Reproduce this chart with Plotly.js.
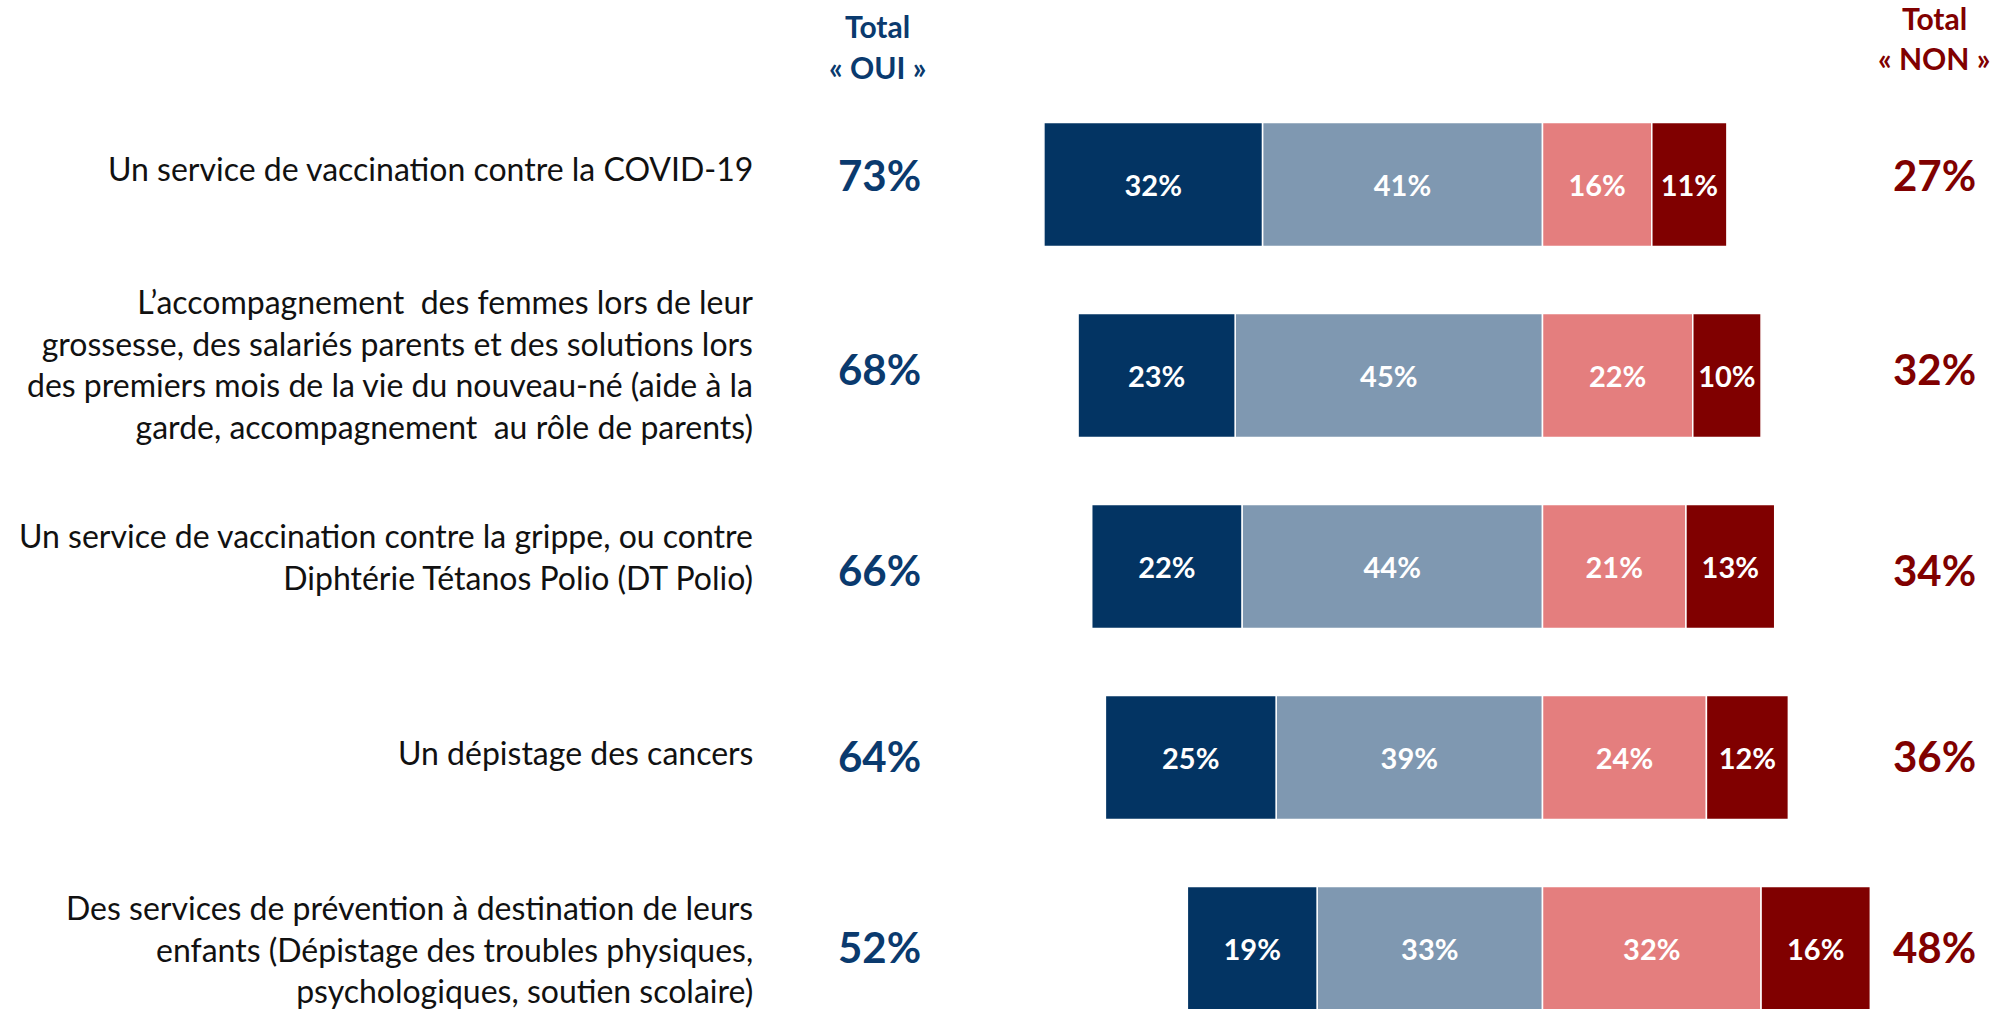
<!DOCTYPE html>
<html>
<head>
<meta charset="utf-8">
<script src="https://cdn.plot.ly/plotly-3.0.1.min.js"></script>
<style>
  html, body { margin: 0; padding: 0; background: #ffffff; }
  #chart { width: 2002px; height: 1009px; }
</style>
</head>
<body>
<div id="chart"></div>
<script>
// ---- Data ----
const categories = [
  "Un service de vaccination contre la COVID-19",
  "L’accompagnement  des femmes lors de leur<br>grossesse, des salariés parents et des solutions lors<br>des premiers mois de la vie du nouveau-né (aide à la<br>garde, accompagnement  au rôle de parents)",
  "Un service de vaccination contre la grippe, ou contre<br>Diphtérie Tétanos Polio (DT Polio)",
  "Un dépistage des cancers",
  "Des services de prévention à destination de leurs<br>enfants (Dépistage des troubles physiques,<br>psychologiques, soutien scolaire)"
];
const seriesNames = ["Oui, tout à fait", "Oui, plutôt", "Non, plutôt pas", "Non, pas du tout"];
const ouiToutAFait = [32, 23, 22, 25, 19];
const ouiPlutot    = [41, 45, 44, 39, 33];
const nonPlutotPas = [16, 22, 21, 24, 32];
const nonPasDuTout = [11, 10, 13, 12, 16];
const totalOui = [73, 68, 66, 64, 52];
const totalNon = [27, 32, 34, 36, 48];
const headerOui = ["Total", "« OUI »"];
const headerNon = ["Total", "« NON »"];

// ---- Styling / layout ----
const W = 2002, H = 1009;
const M = { l: 0, r: 0, t: 89, b: 0 };
const plotH = H - M.t - M.b;
const px = p => p / W;                       // pixel x -> paper
const py = p => (H - M.b - p) / plotH;       // pixel y -> paper
const colors = { dark: "#033463", light: "#7F98B1", pink: "#E47E7E", red: "#800000" };
const ouiColor = "#0A3A6E", nonColor = "#800000";
const idx = categories.map((_, i) => i);
const pct = v => v + "%";
const labelFont = "Lato, 'Open Sans', sans-serif";
const labelShift = [16, 12, 10, 5, 0];
const totalShift = [10, 7, -3, 1.5, 1.5];

function barTrace(name, vals, sign, color) {
  return {
    type: "bar", orientation: "h", name: name,
    y: idx, x: vals.map(v => sign * v),
    text: vals.map(pct), textposition: "inside", insidetextanchor: "middle",
    constraintext: "none", textangle: 0,
    textfont: { family: labelFont, size: 29, color: "#ffffff", weight: 700 },
    marker: { color: color, line: { color: "#ffffff", width: 1.5 } },
    width: 0.65, hoverinfo: "skip", showlegend: false
  };
}

const data = [
  barTrace(seriesNames[1], ouiPlutot, -1, colors.light),
  barTrace(seriesNames[0], ouiToutAFait, -1, colors.dark),
  barTrace(seriesNames[2], nonPlutotPas, 1, colors.pink),
  barTrace(seriesNames[3], nonPasDuTout, 1, colors.red)
];

const annotations = [];
categories.forEach((c, i) => {
  annotations.push({
    xref: "paper", x: px(755), xanchor: "right", align: "right",
    yref: "y", y: i, yanchor: "middle", yshift: labelShift[i],
    text: c, showarrow: false,
    font: { family: labelFont, size: 32, color: "#111111" }
  });
  annotations.push({
    xref: "paper", x: px(879), xanchor: "center",
    yref: "y", y: i, yanchor: "middle", yshift: totalShift[i],
    text: pct(totalOui[i]), showarrow: false,
    font: { family: labelFont, size: 42, color: ouiColor, weight: 700 }
  });
  annotations.push({
    xref: "paper", x: px(1934), xanchor: "center",
    yref: "y", y: i, yanchor: "middle", yshift: totalShift[i],
    text: pct(totalNon[i]), showarrow: false,
    font: { family: labelFont, size: 42, color: nonColor, weight: 700 }
  });
});
[[headerOui, 877, [26, 67], ouiColor], [headerNon, 1934, [18, 58], nonColor]].forEach(([lines, x, ys, col]) => {
  lines.forEach((t, k) => annotations.push({
    xref: "paper", x: px(x), xanchor: "center",
    yref: "paper", y: py(ys[k]), yanchor: "middle",
    text: t, showarrow: false,
    font: { family: labelFont, size: 30, color: col, weight: 700 }
  }));
});

const rowPx = 191, pxPerPct = 6.83, centerPx = 1542.5;
const layout = {
  width: W, height: H, margin: M,
  paper_bgcolor: "#ffffff", plot_bgcolor: "#ffffff",
  barmode: "relative", bargap: 0,
  xaxis: { visible: false, fixedrange: true,
           range: [-centerPx / pxPerPct, (W - centerPx) / pxPerPct] },
  yaxis: { visible: false, fixedrange: true,
           range: [-0.5 + plotH / rowPx, -0.5] },
  annotations: annotations,
  font: { family: labelFont }
};

Plotly.newPlot("chart", data, layout, { displayModeBar: false, staticPlot: true });
</script>
</body>
</html>
